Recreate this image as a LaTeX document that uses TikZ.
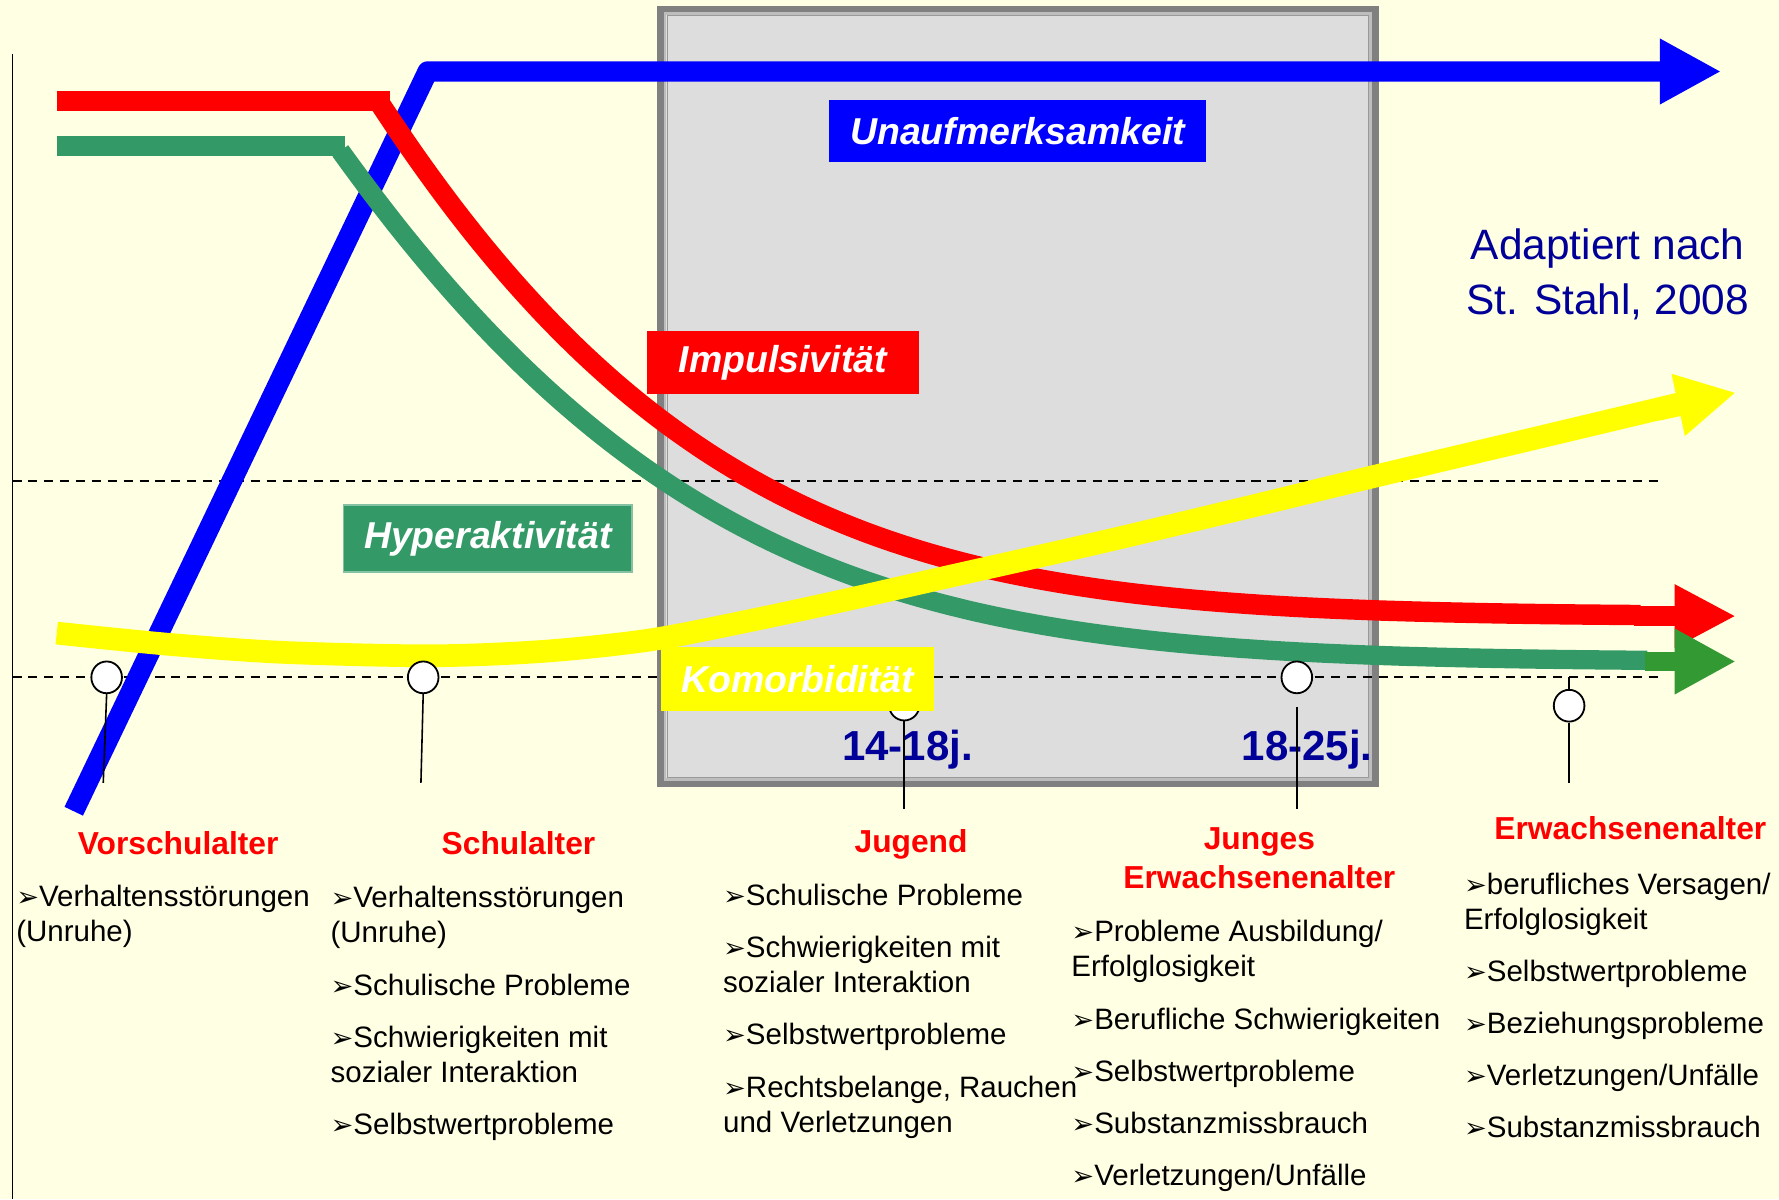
\documentclass[tikz,border=0pt]{standalone}
\usepackage{fontspec}
\setmainfont{Liberation Sans}
\newfontfamily\djv{DejaVu Sans}
\usetikzlibrary{arrows.meta,shapes.geometric}
\definecolor{bgc}{HTML}{FFFFE3}
\definecolor{boxfill}{HTML}{DDDDDD}
\definecolor{boxedge}{HTML}{808080}
\definecolor{boxlight}{HTML}{BDBDBD}
\definecolor{cblue}{HTML}{0000FF}
\definecolor{cred}{HTML}{FF0000}
\definecolor{cgreen}{HTML}{339966}
\definecolor{cgreenhead}{HTML}{339933}
\definecolor{cyellow}{HTML}{FFFF00}
\definecolor{navy}{HTML}{000099}
\newcommand{\bl}{{\djv\fontsize{12pt}{12pt}\selectfont ➢}}
\tikzset{
  curve/.style={line width=9pt, line cap=butt, line join=round},
  headtip/.style={-{Triangle[length=27pt,width=27pt]}},
  dashln/.style={line width=0.8pt, dash pattern=on 4pt off 3pt},
  tag/.style={text=white, font=\fontsize{16.5pt}{18pt}\selectfont\bfseries\itshape, inner sep=0pt},
  marker/.style={draw, ellipse, fill=white, line width=0.8pt, minimum width=13.5pt, minimum height=14pt, inner sep=0pt},
  stem/.style={line width=0.7pt},
  agelabel/.style={text=cred, font=\fontsize{14pt}{17pt}\selectfont\bfseries, align=center, anchor=base, inner sep=0pt},
  items/.style={font=\fontsize{13pt}{15.5pt}\selectfont, align=left, anchor=base west, inner sep=0pt},
  yrs/.style={text=navy, font=\fontsize{18.5pt}{20pt}\selectfont\bfseries, anchor=base, inner sep=0pt},
}
\begin{document}
\begin{tikzpicture}[x=0.5pt,y=-0.5pt]
\fill[bgc] (0,0) rectangle (1568,1057);
\useasboundingbox (0,0) rectangle (1568,1057);
% grey box
\fill[boxfill] (579,5) rectangle (1215,694);
\draw[line width=3pt, draw=boxedge] (582,8) rectangle (1212,691);
\draw[line width=1pt, draw=boxlight] (586,12) rectangle (1208,687);
\draw[line width=0.5pt, draw=boxedge!80] (588,14) rectangle (1206,685);
% dashed levels
\draw[dashln] (11,424) -- (1465,424);
\draw[dashln] (11,597) -- (1465,597);
% axis
\draw[line width=0.6pt] (11,48) -- (11,1057);
% blue
\draw[curve, cblue, headtip] (65,715) -- (377,63) -- (1517,63);
% red
\draw[curve, cred] (50,89) -- (344,89);
\draw[curve, cred] plot[domain=0:11.1, samples=120, smooth] ({336+100*\x}, {543-450*exp(-(0.3392*\x+0.01966*\x*\x))});
\draw[curve, cred, -{Triangle[length=27pt,width=26pt]}] (1440,543) -- (1530,543);
% green
\draw[curve, cgreen] (50,128.5) -- (304,128.5);
\draw[curve, cgreen, line width=8.5pt] plot[domain=0:11.52, samples=120, smooth] ({300+100*\x}, {583-450*exp(-(0.31*\x+0.019*\x*\x))});
\draw[curve, cgreenhead, line width=8.5pt, -{Triangle[length=27pt,width=27pt]}] (1450,583) -- (1530,583);
% yellow
\draw[curve, cyellow, line width=10pt] plot[smooth, tension=0.5] coordinates {(50,558) (150,568) (250,575) (380,578) (480,574) (573,564) (661,547) (749,528) (837,508) (970,478) (1100,447) (1215,419) (1350,387) (1480,356)};
\draw[curve, cyellow, line width=10pt, -{Triangle[length=26pt,width=26pt]}] (1460,361) -- (1530,346);
% markers
\node[marker] (c1) at (94,597) {};
\node[marker] (c2) at (373,597) {};
\node[marker] (c3) at (797,621) {};
\node[marker] (c4) at (1143,597) {};
\node[marker] (c5) at (1383,622) {};
\coordinate (s1) at (91,690);
\coordinate (s2) at (371,690);
\coordinate (s5t) at (1383,597);
\coordinate (s5) at (1383,690);
\draw[stem] (c1.south) -- (s1);
\draw[stem] (c2.south) -- (s2);
\draw[stem] (s5t) -- (c5.north);
\draw[stem] (c5.south) -- (s5);
% tags
\node[tag, fill=cblue, minimum width=166pt, minimum height=27.5pt] (unauf) at (897,115.5) {Unaufmerksamkeit};
\node[tag, fill=cred, minimum width=120pt, minimum height=27.5pt] (impuls) at (690,319.5) {Impulsivität};
\node[tag, fill=cgreen, draw=cgreen!60!white, line width=0.6pt, minimum width=127pt, minimum height=29.5pt] (hyper) at (430,474.5) {Hyperaktivität};
\node[tag, fill=cyellow, minimum width=120pt, minimum height=28.5pt] (komor) at (703,598.5) {Komorbidität};
% years
\node[yrs] (y1418) at (800,670) {14-18j.};
\node[yrs] (y1825) at (1152,670) {18-25j.};
\coordinate (s3) at (797,713);
\coordinate (s4t) at (1143,623);
\coordinate (s4) at (1143,713);
\draw[stem] (c3.south) -- (s3);
\draw[stem] (s4t) -- (s4);
% source
\node[text=navy, font=\fontsize{18.7pt}{24pt}\selectfont, align=center, anchor=base, inner sep=0pt] (src) at (1417,277) {Adaptiert nach\\St. Stahl, 2008};
% age labels
\node[agelabel] (a1) at (157,753) {Vorschulalter};
\node[agelabel] (a2) at (457,753) {Schulalter};
\node[agelabel] (a3) at (803,751) {Jugend};
\node[agelabel] (a4) at (1110,783) {Junges\\Erwachsenenalter};
\node[agelabel] (a5) at (1437,740) {Erwachsenenalter};
% lists (anchor = baseline of last line)
\node[items] (l1) at (14,830) {\bl Verhaltensstörungen\\(Unruhe)};
\node[items] (l2) at (291,1000) {\bl Verhaltensstörungen\\(Unruhe)\\[7.5pt]\bl Schulische Probleme\\[7.5pt]\bl Schwierigkeiten mit\\sozialer Interaktion\\[7.5pt]\bl Selbstwertprobleme};
\node[items] (l3) at (637,998) {\bl Schulische Probleme\\[7.5pt]\bl Schwierigkeiten mit\\sozialer Interaktion\\[7.5pt]\bl Selbstwertprobleme\\[7.5pt]\bl Rechtsbelange, Rauchen\\und Verletzungen};
\node[items] (l4) at (944,1045) {\bl Probleme Ausbildung/\\Erfolglosigkeit\\[7.5pt]\bl Berufliche Schwierigkeiten\\[7.5pt]\bl Selbstwertprobleme\\[7.5pt]\bl Substanzmissbrauch\\[7.5pt]\bl Verletzungen/Unfälle};
\node[items] (l5) at (1290,1003) {\bl berufliches Versagen/\\Erfolglosigkeit\\[7.5pt]\bl Selbstwertprobleme\\[7.5pt]\bl Beziehungsprobleme\\[7.5pt]\bl Verletzungen/Unfälle\\[7.5pt]\bl Substanzmissbrauch};
\end{tikzpicture}
\end{document}
